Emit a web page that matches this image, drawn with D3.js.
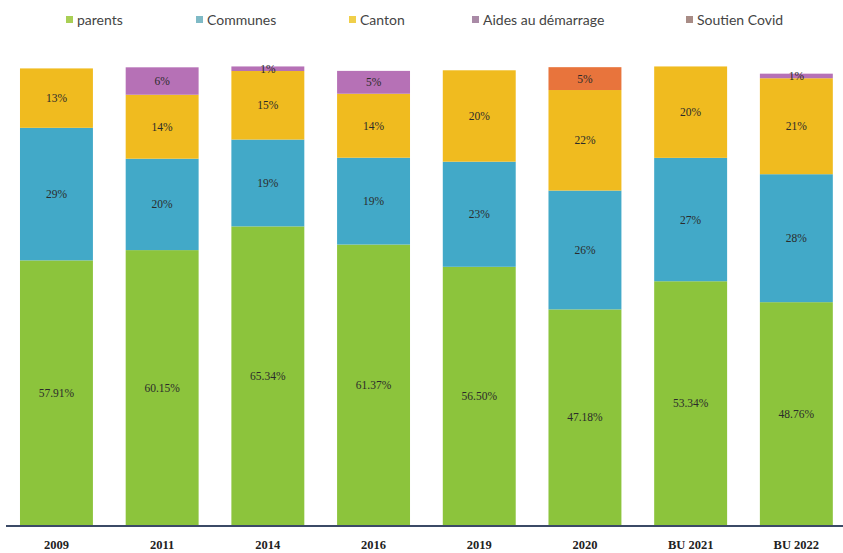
<!DOCTYPE html>
<html>
<head>
<meta charset="utf-8">
<script src="https://cdn.jsdelivr.net/npm/d3@7/dist/d3.min.js"></script>
<style>
  html, body { margin: 0; padding: 0; background: #fff; }
  svg { display: block; }
</style>
</head>
<body>
<svg id="chart" width="843" height="553"></svg>
<script>
// Financement par année : part de chaque source (%)
const years = ["2009", "2011", "2014", "2016", "2019", "2020", "BU 2021", "BU 2022"];
const seriesNames = ["parents", "Communes", "Canton", "Aides au démarrage", "Soutien Covid"];
const parents = [57.91, 60.15, 65.34, 61.37, 56.50, 47.18, 53.34, 48.76];
const communes = [29, 20, 19, 19, 23, 26, 27, 28];
const canton = [13, 14, 15, 14, 20, 22, 20, 21];
const aides = [0, 6, 1, 5, 0, 0, 0, 1];
const covid = [0, 0, 0, 0, 0, 5, 0, 0];
const colors = ["#8cc43c", "#42a9c8", "#f0bb1f", "#b671b6", "#e8743c"];
const legendColors = ["#a9cf55", "#7fbac6", "#f0cf4a", "#a98aa6", "#a88c86"];

const rows = years.map((y, i) => ({
  year: y,
  "parents": parents[i],
  "Communes": communes[i],
  "Canton": canton[i],
  "Aides au démarrage": aides[i],
  "Soutien Covid": covid[i]
}));

const svg = d3.select("#chart");
const baseY = 525, topY = 68;

const x = d3.scaleBand()
  .domain(years)
  .range([3.6, 849.2])
  .paddingInner(0.31)
  .paddingOuter(0.155);

const y = d3.scaleLinear().domain([0, 100]).range([baseY, topY]);

const stacked = d3.stack().keys(seriesNames)(rows);

const layers = svg.append("g").selectAll("g")
  .data(stacked)
  .join("g")
  .attr("fill", (d, i) => colors[i]);

layers.selectAll("rect")
  .data(d => d)
  .join("rect")
  .attr("x", d => x(d.data.year))
  .attr("width", x.bandwidth())
  .attr("y", d => y(d[1]))
  .attr("height", d => Math.max(0, y(d[0]) - y(d[1])));

// Valeurs au centre de chaque segment
const fmt = (key, v) => key === "parents" ? d3.format(".2f")(v) + "%" : d3.format("d")(v) + "%";
const labels = svg.append("g")
  .attr("font-family", "'Liberation Serif', 'DejaVu Serif', serif")
  .attr("font-size", 11.5)
  .attr("fill", "#2b2b2b")
  .attr("text-anchor", "middle");

stacked.forEach(layer => {
  layer.forEach(d => {
    const v = d[1] - d[0];
    if (v <= 0) return;
    labels.append("text")
      .attr("x", x(d.data.year) + x.bandwidth() / 2)
      .attr("y", (y(d[0]) + y(d[1])) / 2)
      .attr("dy", "0.35em")
      .text(fmt(layer.key, v));
  });
});

// Axe des abscisses
const xAxis = d3.axisBottom(x).tickSize(0).tickPadding(15);
const ax = svg.append("g")
  .attr("transform", `translate(0,${baseY})`)
  .call(xAxis);
ax.select(".domain").remove();
ax.selectAll("text")
  .attr("font-family", "'Liberation Serif', 'DejaVu Serif', serif")
  .attr("font-size", 12.5)
  .attr("font-weight", "bold")
  .attr("fill", "#222");
svg.append("line")
  .attr("x1", 6).attr("x2", 843)
  .attr("y1", baseY + 1).attr("y2", baseY + 1)
  .attr("stroke", "#3b4a66")
  .attr("stroke-width", 2);

// Légende
const legendX = [66, 196, 349, 472, 686];
const legend = svg.append("g")
  .attr("font-family", "Lato, 'Open Sans', sans-serif")
  .attr("font-size", 14)
  .attr("fill", "#444");
seriesNames.forEach((name, i) => {
  legend.append("rect")
    .attr("x", legendX[i]).attr("y", 16)
    .attr("width", 7).attr("height", 7)
    .attr("fill", legendColors[i]);
  legend.append("text")
    .attr("x", legendX[i] + 11).attr("y", 20)
    .attr("dy", "0.35em")
    .text(name);
});
</script>
</body>
</html>
